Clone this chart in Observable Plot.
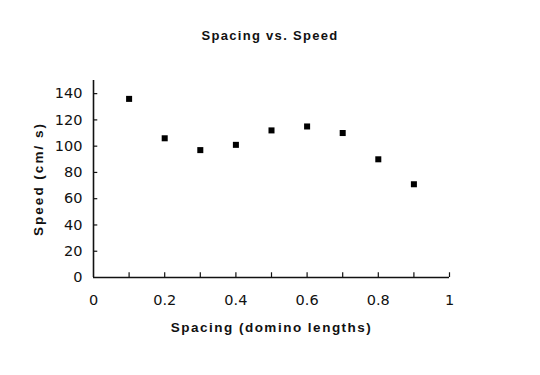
<!DOCTYPE html>
<html>
<head>
<meta charset="utf-8">
<script src="https://cdn.jsdelivr.net/npm/d3@7"></script>
<script src="https://cdn.jsdelivr.net/npm/@observablehq/plot@0.6"></script>
<style>
  html, body { margin: 0; padding: 0; background: #fff; }
  #wrap { width: 540px; height: 375px; position: relative; }
  #title { height: 60px; width: 540px; text-align: center; font-family: "Liberation Sans", Arial, sans-serif;
           font-weight: bold; font-size: 13px; letter-spacing: 1.3px; line-height: 72px; color: #111; }
</style>
</head>
<body>
<div id="wrap">
  <div id="title">Spacing vs. Speed</div>
  <div id="chart"></div>
</div>
<script>
const spacing = [0.1, 0.2, 0.3, 0.4, 0.5, 0.6, 0.7, 0.8, 0.9];
const speed = [136, 106, 97, 101, 112, 115, 110, 90, 71];
const xTicks = [0, 0.2, 0.4, 0.6, 0.8, 1];
const xMinorTicks = [0.1, 0.2, 0.3, 0.4, 0.5, 0.6, 0.7, 0.8, 0.9, 1];
const yTicks = [0, 20, 40, 60, 80, 100, 120, 140];
const xLabel = "Spacing (domino lengths)";
const yLabel = "Speed (cm/ s)";

const data = spacing.map((s, i) => ({spacing: s, speed: speed[i]}));
const font = "'DejaVu Sans', sans-serif";
const labelFont = "'Liberation Sans', Arial, sans-serif";

const plot = Plot.plot({
  width: 540,
  height: 315,
  marginTop: 20,
  marginBottom: 98,
  marginLeft: 93,
  marginRight: 91,
  style: {fontFamily: font, fontSize: "14.5px", color: "#111", background: "#fff"},
  x: {domain: [0, 1]},
  y: {domain: [0, 150]},
  marks: [
    Plot.axisX({ticks: xTicks, tickSize: 0, tickPadding: 17, tickFormat: d => String(d), label: null, fontSize: 14.5}),
    Plot.axisY({ticks: yTicks, tickSize: 0, tickPadding: 11, tickFormat: d => String(d), label: null, fontSize: 14.5}),
    Plot.ruleX(xMinorTicks, {x: d => d, y1: 0, y2: 3.6, stroke: "#111", strokeWidth: 1.2}),
    Plot.ruleY(yTicks.filter(d => d > 0), {y: d => d, x1: 0, x2: 0.012, stroke: "#111", strokeWidth: 1.2}),
    Plot.ruleX([0], {y1: 0, y2: 150, stroke: "#111", strokeWidth: 1.6}),
    Plot.ruleY([0], {x1: 0, x2: 1, stroke: "#111", strokeWidth: 1.6}),
    Plot.dot(data, {x: "spacing", y: "speed", symbol: "square", r: 3.4, fill: "#000", stroke: null}),
    Plot.text([xLabel], {text: d => d, frameAnchor: "bottom", dy: 54, fontWeight: "bold", fontSize: 13.5, fontFamily: labelFont, fill: "#111"}),
    Plot.text([yLabel], {text: d => d, frameAnchor: "left", textAnchor: "middle", dx: -55, rotate: -90, fontWeight: "bold", fontSize: 13.5, fontFamily: labelFont, fill: "#111"})
  ]
});
d3.select(plot).selectAll("text").filter(function() { return this.textContent === xLabel; })
  .style("letter-spacing", "1.5px");
d3.select(plot).selectAll("text").filter(function() { return this.textContent === yLabel; })
  .style("letter-spacing", "2px");
document.getElementById("chart").appendChild(plot);
</script>
</body>
</html>
